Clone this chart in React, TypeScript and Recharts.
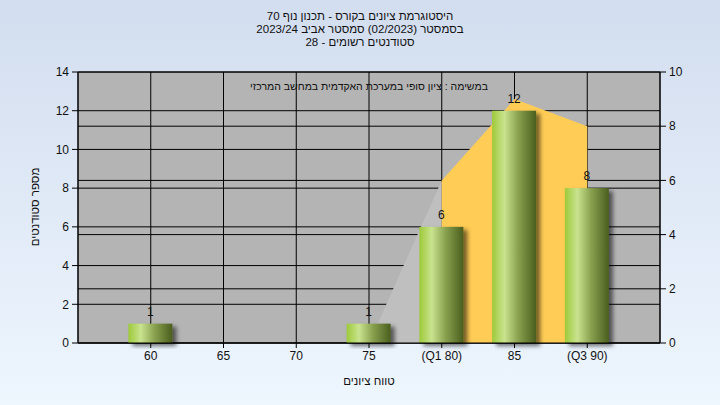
import React from 'react';
import { ComposedChart, Bar, Area, XAxis, YAxis, CartesianGrid, LabelList } from 'recharts';

const grades = [60, 65, 70, 75, 80, 85, 90];
const gradeLabels = ['60', '65', '70', '75', '(Q1 80)', '85', '(Q3 90)'];
const students = [1, 0, 0, 1, 6, 12, 8];
// distribution curve on the right axis: grey part before Q1, yellow part Q1..Q3
const curveOuter = [null, null, null, 0, 6, null, null];
const curveInner = [null, null, null, null, 6, 9, 8];
const leftTicks = [0, 2, 4, 6, 8, 10, 12, 14];
const rightTicks = [0, 2, 4, 6, 8, 10];

const titleLines = [
  'היסטוגרמת ציונים בקורס - תכנון נוף 70',
  'בסמסטר  (02/2023)  סמסטר אביב 2023/24',
  'סטודנטים רשומים - 28',
];
const subtitle = 'במשימה : ציון סופי במערכת האקדמית במחשב המרכזי';
const yTitle = 'מספר סטודנטים';
const xTitle = 'טווח ציונים';

const FONT = '"Liberation Sans", Arial, sans-serif';

const data = grades.map((g, i) => ({
  grade: g,
  students: students[i],
  outer: curveOuter[i],
  inner: curveInner[i],
}));

function BarShape(props: any) {
  const { x, y, width, height } = props;
  if (!height || height <= 0) return null;
  return (
    <rect
      x={x}
      y={y}
      width={width}
      height={height}
      fill="url(#barFill)"
      filter="url(#barShadow)"
    />
  );
}

function BarLabel(props: any) {
  const { x, y, width, value } = props;
  if (!value) return null;
  return (
    <text
      x={x + width / 2}
      y={y - 8}
      textAnchor="middle"
      fontSize={12}
      fill="#111"
      fontFamily={FONT}
    >
      {value}
    </text>
  );
}

export default function App() {
  const tickStyle = { fill: '#111', fontSize: 12, fontFamily: FONT };
  return (
    <div
      style={{
        position: 'absolute',
        left: 0,
        top: 0,
        width: 720,
        height: 405,
        background: 'linear-gradient(#d2ddef, #eef6fe)',
        fontFamily: FONT,
        color: '#111',
      }}
    >
      <svg width={0} height={0} style={{ position: 'absolute' }}>
        <defs>
          <linearGradient id="barFill" x1="0" y1="0" x2="1" y2="0">
            <stop offset="0%" stopColor="#9dca3a" />
            <stop offset="28%" stopColor="#c9e38e" />
            <stop offset="60%" stopColor="#88a04e" />
            <stop offset="100%" stopColor="#4a5e1e" />
          </linearGradient>
          <filter id="barShadow" x="-20%" y="-20%" width="160%" height="150%">
            <feDropShadow dx="4" dy="3" stdDeviation="2" floodColor="#000" floodOpacity="0.55" />
          </filter>
        </defs>
      </svg>
      <ComposedChart
        width={720}
        height={405}
        data={data}
        margin={{ top: 72, right: 10, bottom: 32, left: 18 }}
      >
        <CartesianGrid yAxisId="left" fill="#b4b4b4" fillOpacity={1} stroke="#000" />
        <CartesianGrid yAxisId="right" vertical={false} stroke="#000" />
        <XAxis
          dataKey="grade"
          type="number"
          domain={[55, 95]}
          ticks={grades}
          tickFormatter={(v: number) => gradeLabels[grades.indexOf(v)]}
          interval={0}
          height={30}
          stroke="#000"
          tick={tickStyle}
          tickSize={5}
          tickMargin={3}
        />
        <YAxis
          yAxisId="left"
          domain={[0, 14]}
          ticks={leftTicks}
          width={60}
          stroke="#000"
          tick={tickStyle}
          tickSize={6}
          tickMargin={3}
        />
        <YAxis
          yAxisId="right"
          orientation="right"
          domain={[0, 10]}
          ticks={rightTicks}
          width={50}
          stroke="#000"
          tick={tickStyle}
          tickSize={6}
          tickMargin={3}
        />
        <Area
          yAxisId="right"
          type="linear"
          dataKey="outer"
          stroke="none"
          fill="#bfbfbf"
          fillOpacity={1}
          isAnimationActive={false}
        />
        <Area
          yAxisId="right"
          type="linear"
          dataKey="inner"
          stroke="none"
          fill="#ffcc55"
          fillOpacity={1}
          isAnimationActive={false}
        />
        <Bar yAxisId="left" dataKey="students" barSize={44} shape={BarShape} isAnimationActive={false}>
          <LabelList dataKey="students" content={BarLabel} />
        </Bar>
      </ComposedChart>

      <div
        style={{
          position: 'absolute',
          top: 10,
          left: 0,
          width: 720,
          textAlign: 'center',
          fontSize: 11.5,
          lineHeight: '13px',
          direction: 'rtl',
        }}
      >
        {titleLines.map((t) => (
          <div key={t}>{t}</div>
        ))}
      </div>
      <div
        style={{
          position: 'absolute',
          top: 79,
          left: 78,
          width: 582,
          textAlign: 'center',
          fontSize: 10.5,
          lineHeight: '14px',
          direction: 'rtl',
        }}
      >
        {subtitle}
      </div>
      <div
        style={{
          position: 'absolute',
          left: 35 - 100,
          top: 207 - 7,
          width: 200,
          textAlign: 'center',
          fontSize: 11.5,
          lineHeight: '14px',
          direction: 'rtl',
          transform: 'rotate(-90deg)',
        }}
      >
        {yTitle}
      </div>
      <div
        style={{
          position: 'absolute',
          left: 269,
          top: 374,
          width: 200,
          textAlign: 'center',
          fontSize: 11.5,
          lineHeight: '14px',
          direction: 'rtl',
        }}
      >
        {xTitle}
      </div>
    </div>
  );
}
